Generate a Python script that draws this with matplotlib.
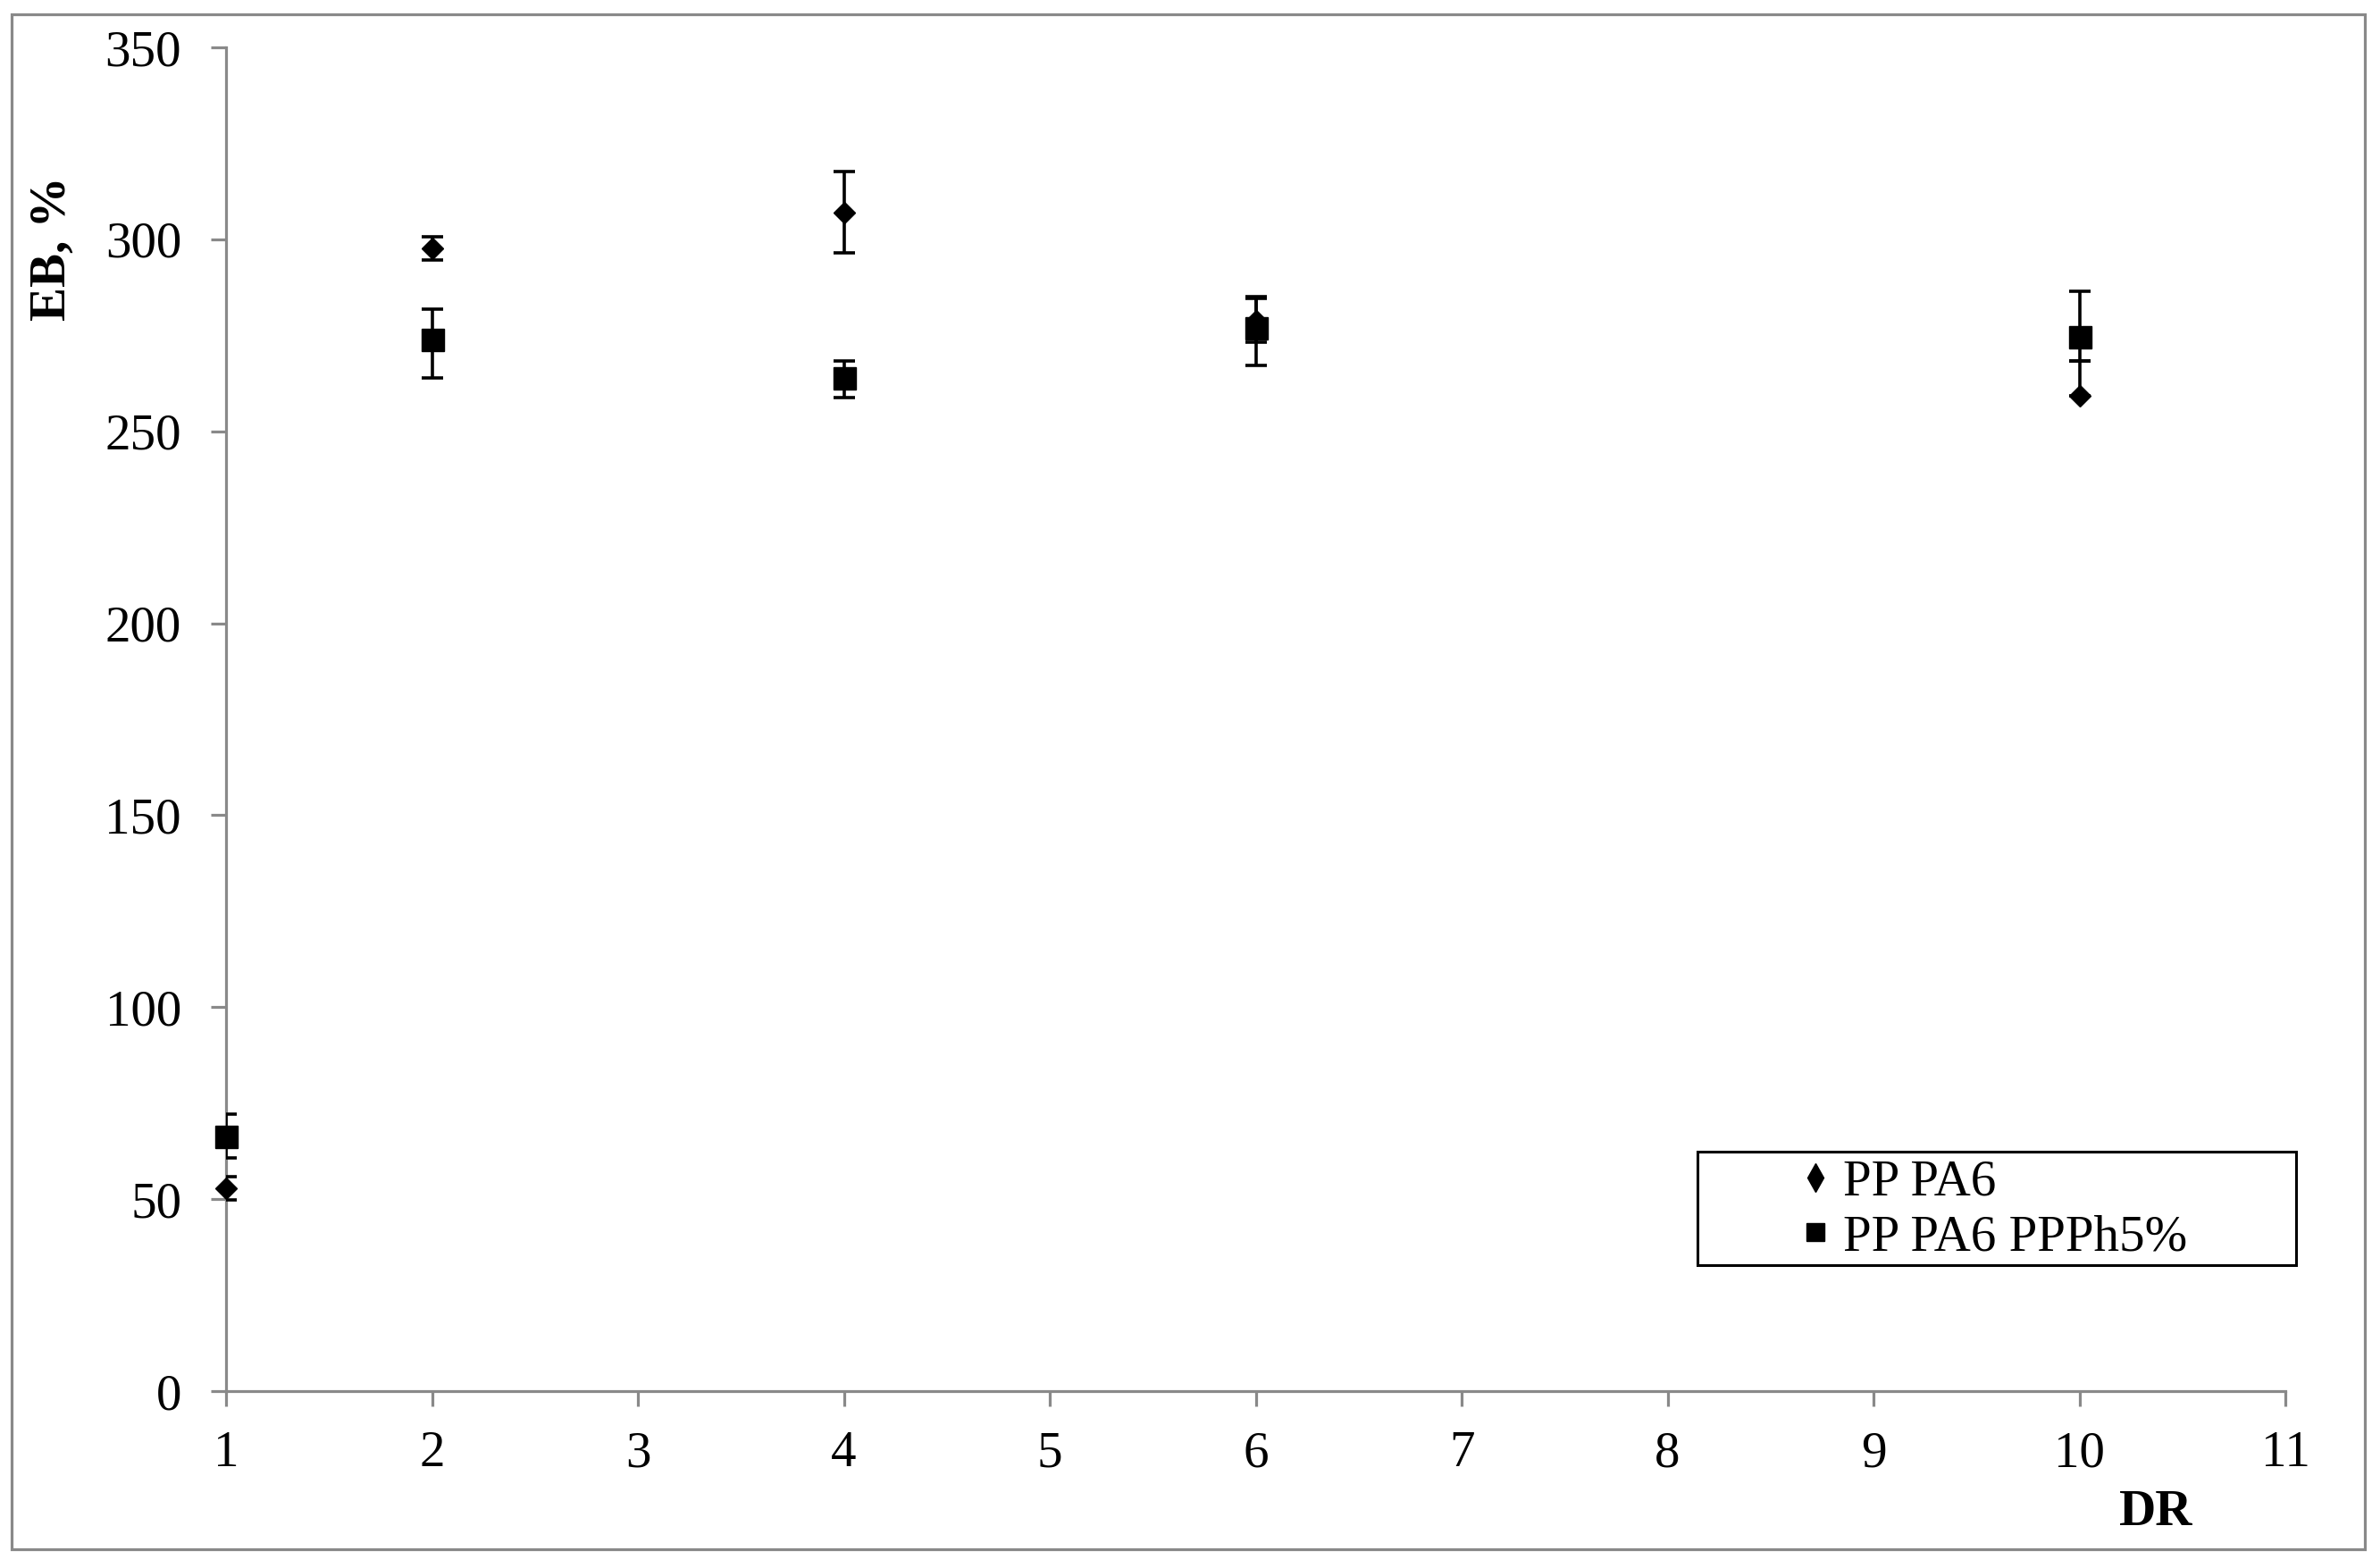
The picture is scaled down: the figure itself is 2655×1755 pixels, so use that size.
import matplotlib
matplotlib.use("Agg")
import matplotlib.pyplot as plt
from matplotlib.lines import Line2D
from matplotlib.patches import Rectangle

# ---- data ----
dr = [1, 2, 4, 6, 10]
series_names = ["PP PA6", "PP PA6 PPPh5%"]
eb_pp_pa6 = [52.8, 297.6, 307.0, 278.9, 259.3]
eb_pp_pa6_err_low = [3.0, 3.0, 10.6, 5.7, 0.0]
eb_pp_pa6_err_high = [3.0, 3.0, 10.6, 5.7, 9.0]
eb_ppph = [66.4, 273.9, 263.8, 277.0, 274.5]
eb_ppph_err_low = [5.7, 10.0, 5.0, 9.9, 6.2]
eb_ppph_err_high = [5.7, 8.0, 4.5, 8.0, 12.0]
x_ticks = [1, 2, 3, 4, 5, 6, 7, 8, 9, 10, 11]
y_ticks = [0, 50, 100, 150, 200, 250, 300, 350]

plt.rcParams['font.family'] = ['Liberation Serif', 'DejaVu Serif']

W, H = 2655, 1755
fig = plt.figure(figsize=(W / 100, H / 100), dpi=100)
ax = fig.add_axes([253 / W, 1 - 1557 / H, (2558 - 253) / W, (1557 - 53) / H])

gray = '#898989'
ebkw = dict(fmt='none', ecolor='black', elinewidth=2.6, capsize=8.5, capthick=2.6)

ax.errorbar(dr, eb_pp_pa6, yerr=[eb_pp_pa6_err_low, eb_pp_pa6_err_high], zorder=3, **ebkw)
ax.plot(dr, eb_pp_pa6, linestyle='none', marker='D', markersize=12.5, color='black',
        clip_on=False, zorder=4)
ax.errorbar(dr, eb_ppph, yerr=[eb_ppph_err_low, eb_ppph_err_high], zorder=5, **ebkw)
ax.plot(dr, eb_ppph, linestyle='none', marker='s', markersize=18, color='black',
        clip_on=False, zorder=6)

ax.set_xlim(1, 11)
ax.set_ylim(0, 350)
ax.set_xticks(x_ticks)
ax.set_yticks(y_ticks)
ax.set_xticklabels([str(v) for v in x_ticks])
ax.set_yticklabels([str(v) for v in y_ticks])

for s in ['top', 'right']:
    ax.spines[s].set_visible(False)
for s in ['left', 'bottom']:
    ax.spines[s].set_color(gray)
    ax.spines[s].set_linewidth(2.3)
    ax.spines[s].set_zorder(2)

ax.tick_params(axis='both', direction='out', length=12, width=2.3, color=gray,
               labelsize=41, labelcolor='black')
ax.tick_params(axis='y', pad=24)
ax.tick_params(axis='x', pad=20)

fig.text(59 / W, 1 - 278 / H, 'EB, %', rotation=90, ha='center', va='center',
         fontsize=41, fontweight='bold')
fig.text(2413 / W, 1 - 1693 / H, 'DR', ha='center', va='center',
         fontsize=41, fontweight='bold')

handles = [
    Line2D([], [], linestyle='none', marker='d', markersize=16, color='black'),
    Line2D([], [], linestyle='none', marker='s', markersize=15, color='black'),
]
leg = ax.legend(handles, series_names, loc='upper left',
                bbox_to_anchor=(2006 / W, 1 - 1289 / H), bbox_transform=fig.transFigure,
                fontsize=41, frameon=False, handlelength=0.6,
                handletextpad=0.25, borderpad=0.15, labelspacing=0.17,
                borderaxespad=0)
leg.set_zorder(10)

# legend frame
fig.patches.append(Rectangle((1900 / W, 1 - 1416 / H), (2570 - 1900) / W, (1416 - 1289) / H,
                             transform=fig.transFigure, fill=False, edgecolor='black',
                             linewidth=2.2))

# outer chart border
fig.patches.append(Rectangle((13 / W, 1 - 1734 / H), (2647 - 13) / W, (1734 - 16) / H,
                             transform=fig.transFigure, fill=False, edgecolor=gray,
                             linewidth=2.3))

fig.savefig('out.png', dpi=100)
